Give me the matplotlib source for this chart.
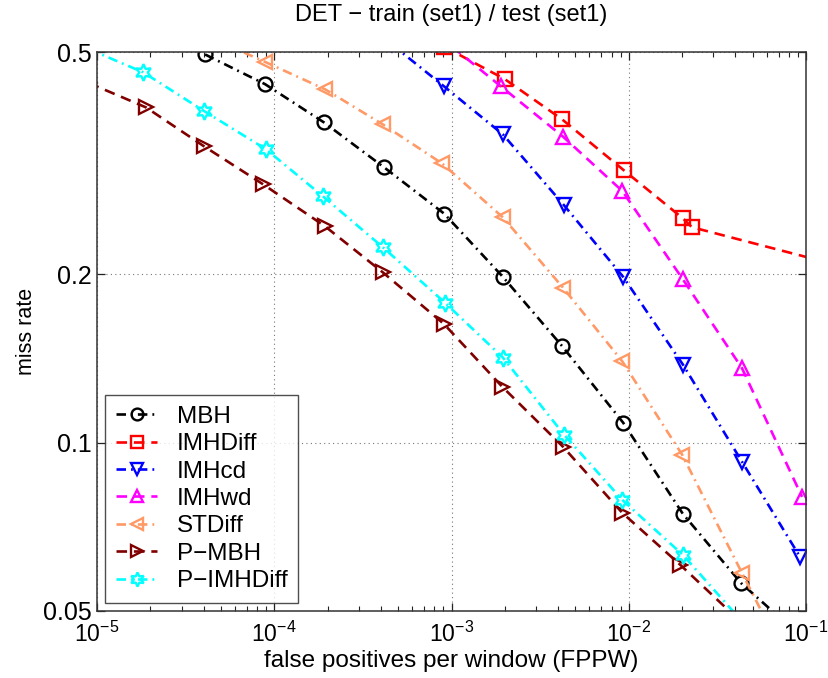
import matplotlib
matplotlib.use("Agg")
import matplotlib.pyplot as plt
from matplotlib.ticker import FixedLocator, NullFormatter, LogLocator, FixedFormatter

plt.rcParams['font.family'] = ['Liberation Sans', 'DejaVu Sans']
plt.rcParams['mathtext.fontset'] = 'custom'
plt.rcParams['mathtext.rm'] = 'Liberation Sans'
plt.rcParams['mathtext.it'] = 'Liberation Sans'

# DET curves: false positives per window vs. miss rate
mbh_x = [4.07e-5, 8.87e-5, 1.91e-4, 4.16e-4, 9.08e-4, 1.95e-3, 4.2e-3, 9.3e-3, 2.02e-2, 4.3e-2, 9.0e-2]
mbh_y = [0.495, 0.438, 0.374, 0.311, 0.257, 0.198, 0.149, 0.1086, 0.0746, 0.0561, 0.0455]

imhdiff_x = [9.1e-4, 2.0e-3, 4.2e-3, 9.4e-3, 2.02e-2, 2.27e-2, 0.2]
imhdiff_y = [0.511, 0.447, 0.379, 0.307, 0.252, 0.243, 0.203]

imhcd_x = [4.6e-4, 9.08e-4, 1.95e-3, 4.31e-3, 9.3e-3, 2.02e-2, 4.35e-2, 9.25e-2]
imhcd_y = [0.516, 0.434, 0.356, 0.266, 0.198, 0.138, 0.0925, 0.0625]

imhwd_x = [8.5e-4, 1.9e-3, 4.25e-3, 9.2e-3, 2.02e-2, 4.35e-2, 9.5e-2]
imhwd_y = [0.534, 0.434, 0.353, 0.282, 0.196, 0.136, 0.080]

stdiff_x = [4.07e-5, 8.87e-5, 1.93e-4, 4.1e-4, 8.84e-4, 1.95e-3, 4.25e-3, 9.2e-3, 2.0e-2, 4.35e-2, 9.5e-2]
stdiff_y = [0.536, 0.48, 0.429, 0.371, 0.316, 0.253, 0.1895, 0.1398, 0.0952, 0.0585, 0.036]

pmbh_x = [9e-6, 1.89e-5, 4.02e-5, 8.64e-5, 1.93e-4, 4.1e-4, 9.08e-4, 1.93e-3, 4.25e-3, 9.2e-3, 1.95e-2, 4.35e-2, 9.0e-2]
pmbh_y = [0.44, 0.398, 0.339, 0.290, 0.244, 0.2017, 0.163, 0.126, 0.0984, 0.0749, 0.0605, 0.0476, 0.038]

pimhdiff_x = [9e-6, 1.82e-5, 4.02e-5, 8.98e-5, 1.88e-4, 4.1e-4, 9.19e-4, 1.95e-3, 4.31e-3, 9.2e-3, 2.02e-2, 9.0e-2]
pimhdiff_y = [0.506, 0.460, 0.392, 0.335, 0.276, 0.2237, 0.178, 0.142, 0.1034, 0.079, 0.063, 0.037]

labels = ["MBH", "IMHDiff", "IMHcd", "IMHwd", "STDiff", "P\u2212MBH", "P\u2212IMHDiff"]

x_ticks = [1e-5, 1e-4, 1e-3, 1e-2, 1e-1]
x_tick_labels = [r"$10^{-5}$", r"$10^{-4}$", r"$10^{-3}$", r"$10^{-2}$", r"$10^{-1}$"]
y_ticks = [0.05, 0.1, 0.2, 0.5]
y_tick_labels = ["0.05", "0.1", "0.2", "0.5"]

DASH = (0, (4.0, 2.6))
DASHDOT = (0, (3.6, 1.9, 0.7, 1.9))

series = [
    (mbh_x, mbh_y, "black", DASHDOT, "o"),
    (imhdiff_x, imhdiff_y, "#ff0000", DASH, "s"),
    (imhcd_x, imhcd_y, "#0000ff", DASHDOT, "v"),
    (imhwd_x, imhwd_y, "#ff00ff", DASH, "^"),
    (stdiff_x, stdiff_y, "#ff9966", DASHDOT, "<"),
    (pmbh_x, pmbh_y, "#800000", DASH, ">"),
    (pimhdiff_x, pimhdiff_y, "#00ffff", DASHDOT, (6, 1, 0)),
]

fig = plt.figure(figsize=(8.29, 6.78), dpi=100)
ax = fig.add_axes([97 / 829, 1 - 611 / 678, 709 / 829, 559 / 678])

for (xs, ys, col, ls, mk), lab in zip(series, labels):
    ms = 12 if mk == (6, 1, 0) else 10
    ax.plot(xs, ys, color=col, linestyle=ls, linewidth=1.9, marker=mk,
            markersize=ms, markerfacecolor="none", markeredgecolor=col,
            markeredgewidth=1.7, label=lab)

ax.set_xscale("log")
ax.set_yscale("log")
ax.set_xlim(1e-5, 1e-1)
ax.set_ylim(0.05, 0.5)

ax.xaxis.set_major_locator(FixedLocator(x_ticks))
ax.xaxis.set_major_formatter(FixedFormatter(x_tick_labels))
ax.xaxis.set_minor_locator(LogLocator(base=10, subs=range(2, 10), numticks=20))
ax.xaxis.set_minor_formatter(NullFormatter())
ax.yaxis.set_major_locator(FixedLocator(y_ticks))
ax.yaxis.set_major_formatter(FixedFormatter(y_tick_labels))
ax.yaxis.set_minor_locator(FixedLocator([]))

ax.tick_params(which="both", direction="in", top=True, right=True, colors="#222222")
ax.tick_params(axis="x", labelsize=16.5, pad=8)
ax.tick_params(axis="y", labelsize=18, pad=4)
ax.tick_params(which="major", length=6, width=0.9)
ax.tick_params(which="minor", length=3.5, width=0.8)
for lab in ax.get_xticklabels() + ax.get_yticklabels():
    lab.set_color("black")
for sp in ax.spines.values():
    sp.set_linewidth(1.1)
    sp.set_color("#333333")

ax.grid(True, which="major", linestyle=(0, (1, 3)), color="#777777", linewidth=0.8)

ax.set_title("DET \u2212 train (set1) / test (set1)", fontsize=17, pad=22)
ax.set_xlabel("false positives per window (FPPW)", fontsize=17.5, labelpad=2)
ax.set_ylabel("miss rate", fontsize=15.5, labelpad=4)

leg = ax.legend(loc="lower left", bbox_to_anchor=(0.0113, 0.0143), borderaxespad=0,
                fontsize=17.5, handlelength=1.7, handletextpad=0.8, labelspacing=0.22,
                frameon=True, fancybox=False, borderpad=0.45, markerscale=0.85)
leg.get_frame().set_edgecolor("#222222")
leg.get_frame().set_linewidth(1.0)

fig.savefig("out.png", dpi=100)
